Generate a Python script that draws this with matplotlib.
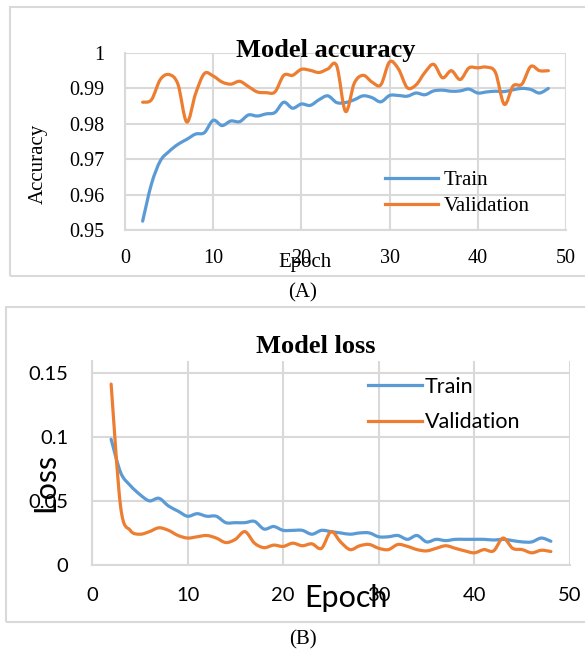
import numpy as np
import matplotlib
matplotlib.use("Agg")
import matplotlib.pyplot as plt
from matplotlib.patches import Rectangle, PathPatch
from matplotlib.path import Path
from matplotlib.lines import Line2D

# ---- data ----
epochs = list(range(2, 49))

train_acc = [0.9525, 0.9630, 0.9695, 0.9722, 0.9742, 0.9756, 0.9771, 0.9775, 0.9810,
             0.9795, 0.9808, 0.9806, 0.9825, 0.9822, 0.9828, 0.9832, 0.9861, 0.9844,
             0.9856, 0.9852, 0.9868, 0.9879, 0.9860, 0.9860, 0.9868, 0.9879, 0.9874,
             0.9862, 0.9880, 0.9880, 0.9878, 0.9887, 0.9882, 0.9893, 0.9895, 0.9892,
             0.9893, 0.9898, 0.9887, 0.9890, 0.9892, 0.9891, 0.9896, 0.9900, 0.9897,
             0.9887, 0.9900]
val_acc = [0.9861, 0.9868, 0.9925, 0.9939, 0.9912, 0.9805, 0.9885, 0.9942, 0.9935,
           0.9918, 0.9912, 0.9920, 0.9905, 0.9890, 0.9888, 0.9890, 0.9937, 0.9937,
           0.9954, 0.9951, 0.9945, 0.9955, 0.9964, 0.9835, 0.9915, 0.9937, 0.9918,
           0.9910, 0.9975, 0.9955, 0.9902, 0.9910, 0.9945, 0.9968, 0.9930, 0.9950,
           0.9925, 0.9958, 0.9958, 0.9960, 0.9945, 0.9855, 0.9907, 0.9912, 0.9962,
           0.9950, 0.9950]

train_loss = [0.098, 0.072, 0.062, 0.055, 0.050, 0.052, 0.046, 0.042, 0.038, 0.040,
              0.038, 0.038, 0.033, 0.033, 0.033, 0.034, 0.028, 0.030, 0.027, 0.027,
              0.027, 0.024, 0.027, 0.026, 0.025, 0.024, 0.025, 0.025, 0.022, 0.022,
              0.023, 0.020, 0.023, 0.018, 0.020, 0.019, 0.020, 0.020, 0.020, 0.020,
              0.0195, 0.020, 0.019, 0.018, 0.018, 0.021, 0.0185]
val_loss = [0.141, 0.045, 0.027, 0.024, 0.026, 0.029, 0.027, 0.023, 0.021, 0.022,
            0.023, 0.021, 0.0175, 0.020, 0.026, 0.017, 0.0135, 0.0155, 0.0145, 0.017,
            0.015, 0.0165, 0.013, 0.026, 0.018, 0.012, 0.015, 0.016, 0.013, 0.012,
            0.016, 0.0145, 0.012, 0.011, 0.013, 0.015, 0.013, 0.011, 0.0095, 0.012,
            0.011, 0.021, 0.013, 0.012, 0.0095, 0.0115, 0.0105]

BLUE = "#5B9BD5"
ORANGE = "#ED7D31"
GRID = "#d9d9d9"
W, H = 585, 651

fig = plt.figure(figsize=(W / 100, H / 100), dpi=100)


def fx(px):
    return px / W


def fy(py):
    return 1 - py / H


def smooth_line(ax, x, y, color, label):
    # excel-style smoothed line: cubic bezier through the data points
    p = np.column_stack([x, y]).astype(float)
    verts = [p[0]]
    codes = [Path.MOVETO]
    n = len(p)
    for i in range(n - 1):
        p0 = p[max(i - 1, 0)]
        p1 = p[i]
        p2 = p[i + 1]
        p3 = p[min(i + 2, n - 1)]
        verts += [p1 + (p2 - p0) / 6, p2 - (p3 - p1) / 6, p2]
        codes += [Path.CURVE4] * 3
    ax.add_patch(PathPatch(Path(verts, codes), fill=False, ec=color, lw=2.3,
                           capstyle="round", joinstyle="round"))
    return Line2D([], [], color=color, lw=2.3, label=label)


def style_axes(ax, family, size, padx, pady):
    ax.grid(True, color=GRID, lw=1.5)
    ax.set_axisbelow(True)
    for s in ["top", "right"]:
        ax.spines[s].set_visible(False)
    for s in ["left", "bottom"]:
        ax.spines[s].set_color(GRID)
        ax.spines[s].set_linewidth(1.5)
    ax.tick_params(length=0, labelsize=size)
    ax.tick_params(axis="x", pad=padx)
    ax.tick_params(axis="y", pad=pady)
    for lab in ax.get_xticklabels() + ax.get_yticklabels():
        lab.set_family(family)


# outer boxes
fig.patches.append(Rectangle((fx(10), fy(276)), fx(590) - fx(10), fy(7) - fy(276),
                             transform=fig.transFigure, fill=False, ec=GRID, lw=1.5))
fig.patches.append(Rectangle((fx(6), fy(622)), fx(590) - fx(6), fy(307) - fy(622),
                             transform=fig.transFigure, fill=False, ec=GRID, lw=1.5))

# ---- (A) accuracy ----
serif = "Liberation Serif"
ax1 = fig.add_axes([fx(125), fy(230), fx(566) - fx(125), fy(53) - fy(230)])
h1 = [smooth_line(ax1, epochs, train_acc, BLUE, "Train"),
      smooth_line(ax1, epochs, val_acc, ORANGE, "Validation")]
ax1.set_xlim(0, 50)
ax1.set_ylim(0.95, 1.0)
ax1.set_xticks([0, 10, 20, 30, 40, 50])
ax1.set_yticks([0.95, 0.96, 0.97, 0.98, 0.99, 1.0])
ax1.set_yticklabels(["0.95", "0.96", "0.97", "0.98", "0.99", "1"])
style_axes(ax1, serif, 14.5, 14, 15)
ax1.legend(handles=h1, loc="center left", bbox_to_anchor=(fx(385), fy(193.5)),
           bbox_transform=fig.transFigure, frameon=False, borderpad=0,
           borderaxespad=0, handlelength=2.55, handletextpad=0.25,
           labelspacing=0.3, prop={"family": serif, "size": 15})
fig.text(fx(326), fy(57), "Model accuracy", family=serif, weight="bold", size=19,
         ha="center", va="baseline")
fig.text(fx(38), fy(164), "Accuracy", family=serif, size=15, rotation=90,
         ha="center", va="center")
fig.text(fx(305), fy(267), "Epoch", family=serif, size=15, ha="center", va="baseline")
fig.text(fx(303), fy(293), "(A)", family=serif, size=15, ha="center", va="center")

# ---- (B) loss ----
sans = "Lato"
ax2 = fig.add_axes([fx(92), fy(565), fx(570) - fx(92), fy(361) - fy(565)])
h2 = [smooth_line(ax2, epochs, train_loss, BLUE, "Train"),
      smooth_line(ax2, epochs, val_loss, ORANGE, "Validation")]
ax2.set_xlim(0, 50)
ax2.set_ylim(0, 0.159)
ax2.set_xticks([0, 10, 20, 30, 40, 50])
ax2.set_yticks([0, 0.05, 0.1, 0.15])
ax2.set_yticklabels(["0", "0.05", "0.1", "0.15"])
style_axes(ax2, sans, 14.5, 16, 17)
ax2.legend(handles=h2, loc="center left", bbox_to_anchor=(fx(368), fy(404.5)),
           bbox_transform=fig.transFigure, frameon=False, borderpad=0,
           borderaxespad=0, handlelength=2.5, handletextpad=0.15,
           labelspacing=0.7, prop={"family": sans, "size": 15.5})
fig.text(fx(316), fy(353), "Model loss", family=serif, weight="bold", size=19,
         ha="center", va="baseline")
fig.text(fx(45), fy(482), "Loss", family=sans, size=22, rotation=90,
         ha="center", va="center")
fig.text(fx(346), fy(607), "Epoch", family=sans, size=22, ha="center", va="baseline")
fig.text(fx(303), fy(640), "(B)", family=serif, size=15, ha="center", va="center")

fig.savefig("out.png", dpi=100)
